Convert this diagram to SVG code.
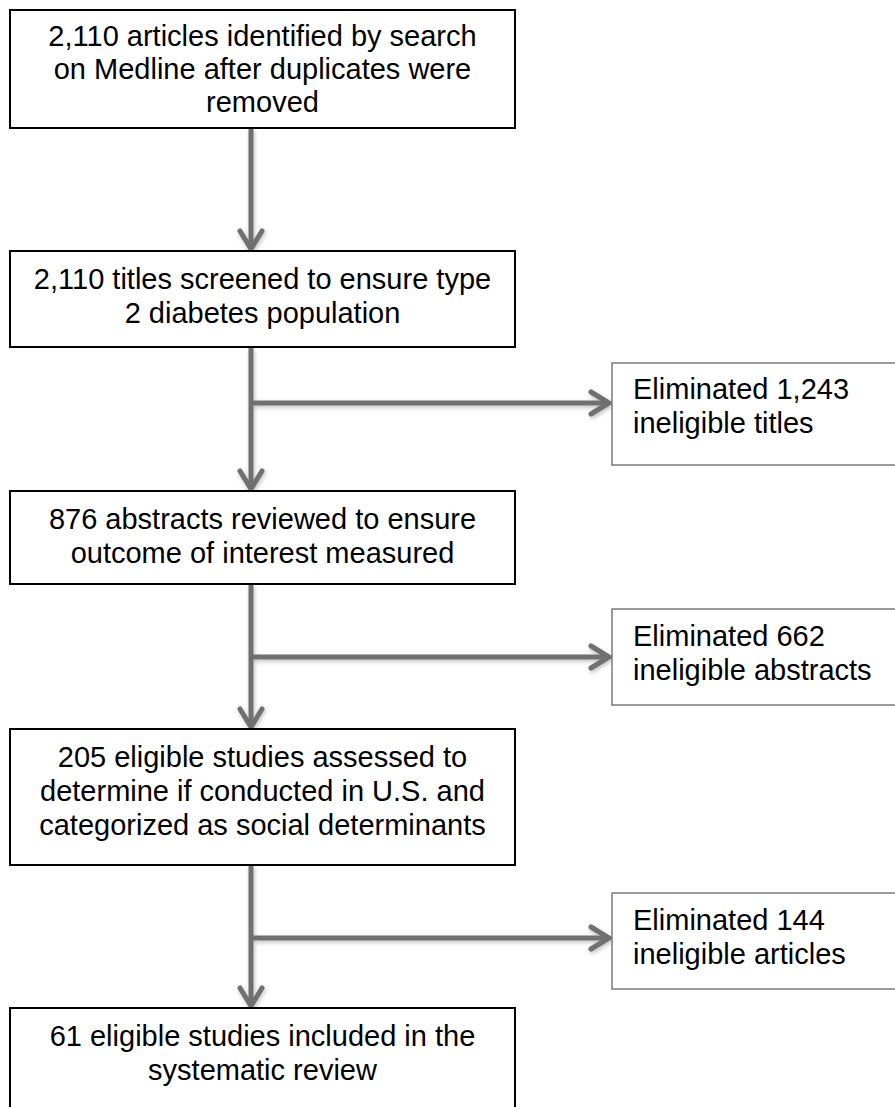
<svg xmlns="http://www.w3.org/2000/svg" width="895" height="1107" viewBox="0 0 895 1107">
<style>
.box{fill:#fff;stroke:#000;stroke-width:2}
.side{fill:#fff;stroke:#7a7a7a;stroke-width:1.5}
.t{font-family:"Liberation Sans",Arial,sans-serif;font-size:29px;fill:#000}
.c{text-anchor:middle}
.ln{fill:none;stroke:#707070;stroke-width:5}
</style>
<defs>
<marker id="ah" markerUnits="userSpaceOnUse" viewBox="-22 -14 26 28" refX="0" refY="0" markerWidth="26" markerHeight="28" orient="auto">
<path d="M-18,-11 L0,0 L-18,11" fill="none" stroke="#707070" stroke-width="5" stroke-linecap="round" stroke-linejoin="miter"/>
</marker>
<filter id="sh" x="-20%" y="-20%" width="140%" height="140%">
<feDropShadow dx="1" dy="2" stdDeviation="2" flood-color="#000" flood-opacity="0.25"/>
</filter>
</defs>
<g id="connectors" filter="url(#sh)">
<line class="ln" x1="251" y1="129" x2="251" y2="249" marker-end="url(#ah)"/>
<line class="ln" x1="251" y1="348" x2="251" y2="489" marker-end="url(#ah)"/>
<line class="ln" x1="251" y1="403" x2="609" y2="403" marker-end="url(#ah)"/>
<line class="ln" x1="251" y1="585" x2="251" y2="727" marker-end="url(#ah)"/>
<line class="ln" x1="251" y1="657" x2="609" y2="657" marker-end="url(#ah)"/>
<line class="ln" x1="251" y1="866" x2="251" y2="1006" marker-end="url(#ah)"/>
<line class="ln" x1="251" y1="938" x2="609" y2="938" marker-end="url(#ah)"/>
</g>
<g id="n1">
<rect class="box" x="10" y="10" width="505" height="118"/>
<text class="t c" x="262.5" y="46">2,110 articles identified by search</text>
<text class="t c" x="262.5" y="79">on Medline after duplicates were</text>
<text class="t c" x="262.5" y="112">removed</text>
</g>
<g id="n2">
<rect class="box" x="10" y="251" width="505" height="96"/>
<text class="t c" x="262.5" y="289">2,110 titles screened to ensure type</text>
<text class="t c" x="262.5" y="323">2 diabetes population</text>
</g>
<g id="s1">
<rect class="side" x="612" y="363" width="300" height="102"/>
<text class="t" x="633" y="399">Eliminated 1,243</text>
<text class="t" x="633" y="433">ineligible titles</text>
</g>
<g id="n3">
<rect class="box" x="10" y="491" width="505" height="93"/>
<text class="t c" x="262.5" y="529">876 abstracts reviewed to ensure</text>
<text class="t c" x="262.5" y="563">outcome of interest measured</text>
</g>
<g id="s2">
<rect class="side" x="612" y="609" width="300" height="96"/>
<text class="t" x="633" y="646">Eliminated 662</text>
<text class="t" x="633" y="680">ineligible abstracts</text>
</g>
<g id="n4">
<rect class="box" x="10" y="729" width="505" height="136"/>
<text class="t c" x="262.5" y="767">205 eligible studies assessed to</text>
<text class="t c" x="262.5" y="801">determine if conducted in U.S. and</text>
<text class="t c" x="262.5" y="835">categorized as social determinants</text>
</g>
<g id="s3">
<rect class="side" x="612" y="893" width="300" height="96"/>
<text class="t" x="633" y="930">Eliminated 144</text>
<text class="t" x="633" y="964">ineligible articles</text>
</g>
<g id="n5">
<rect class="box" x="10" y="1008" width="505" height="120"/>
<text class="t c" x="262.5" y="1046">61 eligible studies included in the</text>
<text class="t c" x="262.5" y="1080">systematic review</text>
</g>
</svg>
